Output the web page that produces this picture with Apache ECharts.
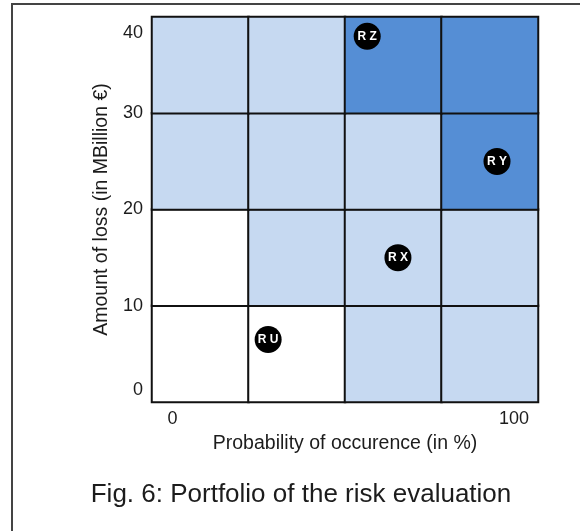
<!DOCTYPE html>
<html>
<head>
<meta charset="utf-8">
<script src="https://cdn.jsdelivr.net/npm/echarts@6/dist/echarts.min.js"></script>
<style>
  html, body { margin: 0; padding: 0; background: #fff; }
  #chart { width: 580px; height: 531px; }
</style>
</head>
<body>
<div id="chart"></div>
<script>
// Risk matrix: 4 probability bands x 4 loss bands
const probBands = ['P1', 'P2', 'P3', 'P4'];
const lossBands = ['L1', 'L2', 'L3', 'L4'];
// Risk level per cell, rows listed from lowest loss band to highest
// 0 = low (white), 1 = medium (light blue), 2 = high (blue)
const levelRows = [
  [0, 0, 1, 1],
  [0, 1, 1, 1],
  [1, 1, 1, 2],
  [1, 1, 2, 2]
];
// Individual risks: probability of occurrence (%) and amount of loss
const riskNames = ['R U', 'R X', 'R Y', 'R Z'];
const riskProbability = [28, 66, 95, 57];
const riskLoss = [6.5, 15, 25, 38];
// Tick labels
const probTicks = [0, 100];
const lossTicks = [0, 10, 20, 30, 40];

const cellData = [];
levelRows.forEach((row, r) => row.forEach((lvl, c) => cellData.push([c, r, lvl])));
const riskData = riskNames.map((n, i) => ({ name: n, value: [riskProbability[i], riskLoss[i]] }));

const FONT = '"Liberation Sans", Arial, sans-serif';
const TXT = '#1c1c1c';
const chart = echarts.init(document.getElementById('chart'), null, { renderer: 'canvas' });

chart.setOption({
  animation: false,
  backgroundColor: '#fff',
  textStyle: { fontFamily: FONT },
  graphic: [{
    type: 'rect',
    shape: { x: 12, y: 4, width: 700, height: 700 },
    style: { fill: 'none', stroke: '#444', lineWidth: 2 },
    silent: true, z: -1
  }],
  title: {
    text: 'Fig. 6: Portfolio of the risk evaluation',
    left: 296, top: 477, textAlign: 'center',
    textStyle: { fontFamily: FONT, fontSize: 26, fontWeight: 'normal', color: TXT }
  },
  grid: { left: 152, right: 42, top: 17, bottom: 129 },
  visualMap: {
    show: false, type: 'piecewise', seriesIndex: 0, dimension: 2,
    pieces: [
      { value: 0, color: '#ffffff' },
      { value: 1, color: '#c6d9f1' },
      { value: 2, color: '#558ed5' }
    ]
  },
  xAxis: [{
    type: 'category', data: probBands, position: 'bottom',
    axisLine: { show: false }, axisTick: { show: false }, axisLabel: { show: false },
    splitLine: { show: false }
  }, {
    type: 'value', min: -6, max: 107, position: 'bottom',
    axisLine: { show: false }, axisTick: { show: false }, splitLine: { show: false },
    axisLabel: {
      customValues: probTicks, margin: 8,
      fontFamily: FONT, fontSize: 18, color: TXT
    },
    name: 'Probability of occurence (in %)', nameLocation: 'middle', nameGap: 32,
    nameTextStyle: { fontFamily: FONT, fontSize: 19.5, color: TXT }
  }],
  yAxis: [{
    type: 'category', data: lossBands,
    axisLine: { show: false }, axisTick: { show: false }, axisLabel: { show: false },
    splitLine: { show: false }
  }, {
    type: 'value', min: 0, max: 40, interval: 10, position: 'left',
    axisLine: { show: false }, axisTick: { show: false }, splitLine: { show: false },
    axisLabel: {
      customValues: lossTicks, margin: 9,
      fontFamily: FONT, fontSize: 18, color: TXT,
      formatter: v => v === 40 ? '{hi|' + v + '}' : v === 0 ? '{lo|' + v + '}' : String(v),
      rich: {
        hi: { fontFamily: FONT, fontSize: 18, color: TXT, padding: [32, 0, 0, 0] },
        lo: { fontFamily: FONT, fontSize: 18, color: TXT, padding: [0, 0, 24, 0] }
      }
    },
    name: 'Amount of loss (in MBillion €)', nameLocation: 'middle', nameGap: 38,
    nameTextStyle: { fontFamily: FONT, fontSize: 19.5, color: TXT }
  }],
  series: [{
    type: 'heatmap', xAxisIndex: 0, yAxisIndex: 0, data: cellData,
    itemStyle: { borderColor: '#111', borderWidth: 2 },
    emphasis: { disabled: true }, z: 1
  }, {
    type: 'scatter', xAxisIndex: 1, yAxisIndex: 1, data: riskData,
    symbol: 'circle', symbolSize: 27,
    itemStyle: { color: '#000', opacity: 1 },
    emphasis: { disabled: true },
    label: {
      show: true, position: 'inside', formatter: '{b}',
      fontFamily: FONT, fontSize: 12, fontWeight: 'bold', color: '#fff'
    },
    z: 5
  }]
});
</script>
</body>
</html>
